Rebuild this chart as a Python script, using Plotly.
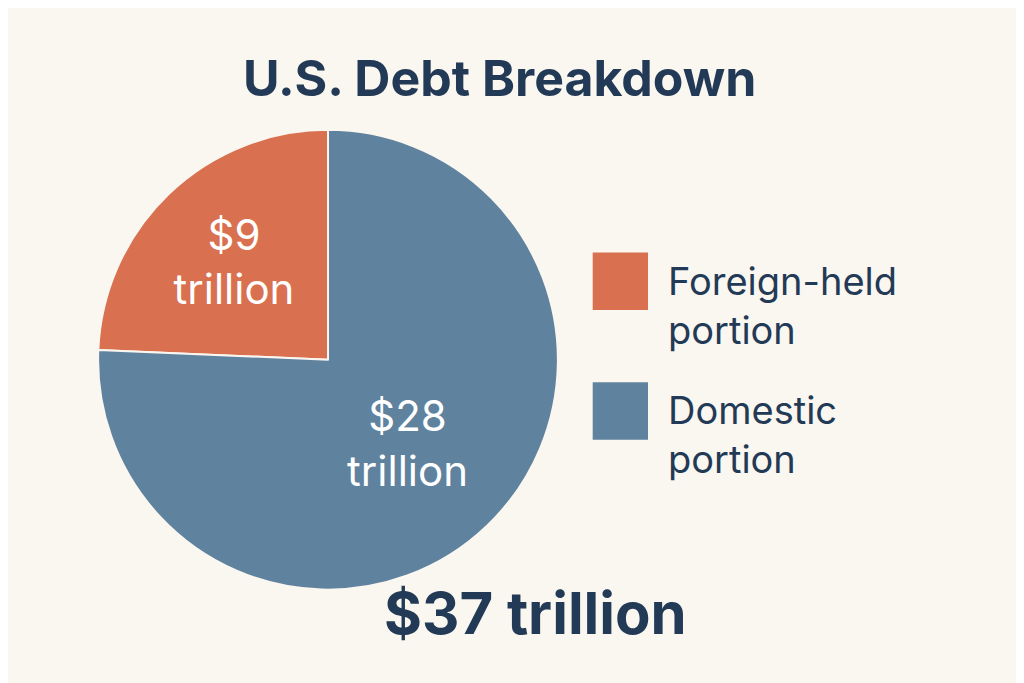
import plotly.graph_objects as go

labels = ["Foreign-held portion", "Domestic portion"]
values = [9, 28]
colors = ["#D9704F", "#5F829F"]
total_label = "$37 trillion"

start = -values[0] / sum(values) * 360  # foreign slice ends at 12 o'clock

fig = go.Figure(go.Pie(
    labels=labels, values=values, sort=False,
    direction="clockwise", rotation=start,
    marker=dict(colors=colors, line=dict(color="#FAF6F0", width=2)),
    texttemplate="$%{value}<br>trillion", textinfo="text",
    textposition="inside", insidetextorientation="horizontal",
    textfont=dict(color="white", size=42, family="Inter"),
    domain=dict(x=[0.088, 0.537], y=[0.14, 0.83]),
    showlegend=False, hoverinfo="label+value",
))

ink = "#233A56"
legend_y = [0.6, 0.41]
legend_txt = ["Foreign-held<br>portion", "Domestic<br>portion"]
for y, c, t in zip(legend_y, colors, legend_txt):
    fig.add_shape(type="rect", xref="paper", yref="paper",
                  x0=0.571, x1=0.625, y0=y - 0.042, y1=y + 0.042,
                  fillcolor=c, line=dict(width=0))
    fig.add_annotation(xref="paper", yref="paper", x=0.643, y=y - 0.035,
                       text=t, showarrow=False, xanchor="left", yanchor="middle",
                       align="left", font=dict(size=38, color=ink, family="Inter"))

fig.add_annotation(xref="paper", yref="paper", x=0.48, y=0.945, text="<b>U.S. Debt Breakdown</b>",
                   showarrow=False, font=dict(size=50, color=ink, family="Inter"))
fig.add_annotation(xref="paper", yref="paper", x=0.515, y=0.06, text=f"<b>{total_label}</b>",
                   showarrow=False, font=dict(size=58, color=ink, family="Inter"))

fig.update_layout(width=1024, height=683, margin=dict(l=0, r=0, t=0, b=0),
                  paper_bgcolor="#FAF6F0", plot_bgcolor="#FAF6F0")
fig.write_html("out.html")
